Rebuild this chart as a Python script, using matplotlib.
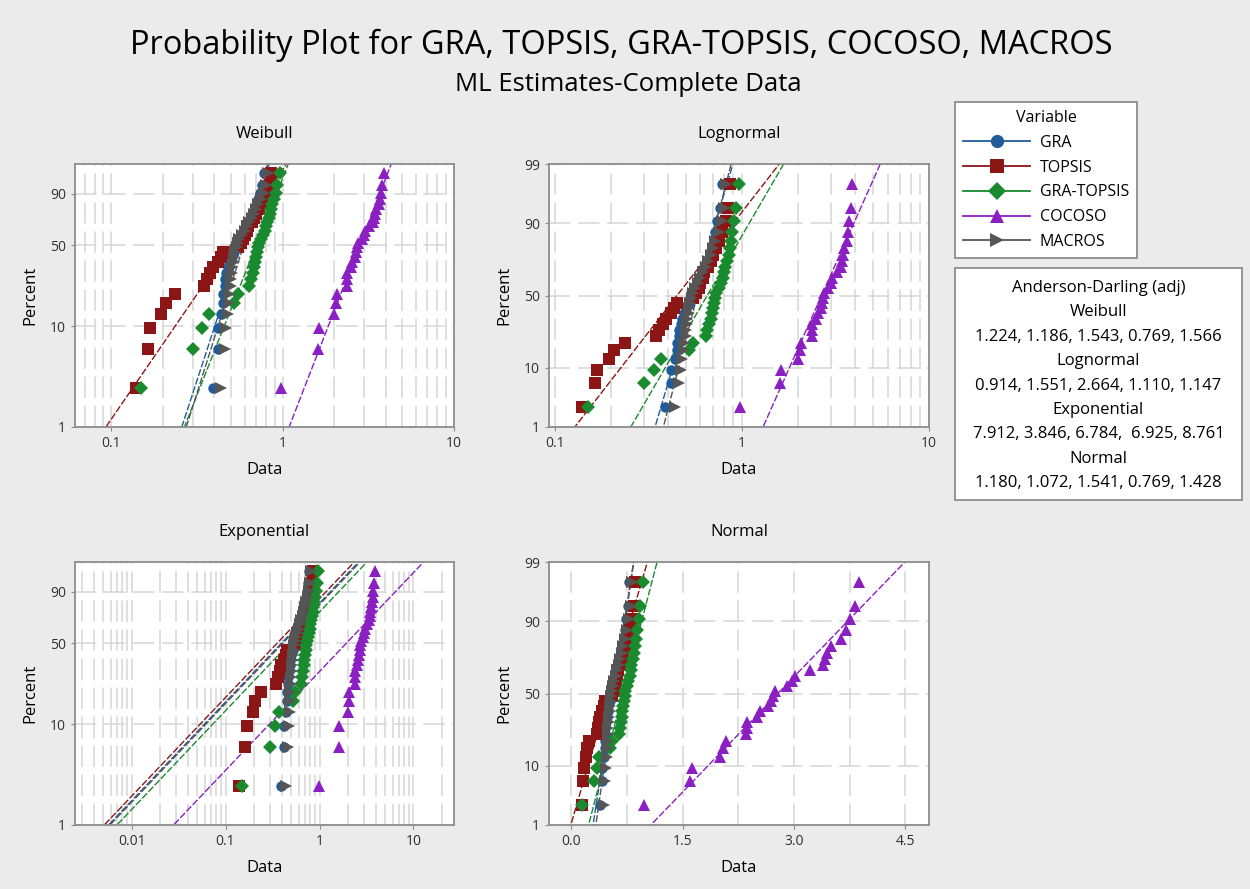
import numpy as np
import matplotlib
matplotlib.use("Agg")
import matplotlib.pyplot as plt
from matplotlib.lines import Line2D
from matplotlib.patches import Rectangle
from matplotlib.ticker import NullLocator, FixedLocator
from statistics import NormalDist

plt.rcParams['font.family'] = ['Open Sans', 'DejaVu Sans']

# sorted sample values (28 per series)
gra = [0.39, 0.42, 0.42, 0.44, 0.45, 0.45, 0.46, 0.46, 0.47, 0.48, 0.49, 0.50, 0.52, 0.53,
       0.55, 0.57, 0.59, 0.61, 0.63, 0.65, 0.67, 0.69, 0.70, 0.71, 0.72, 0.74, 0.76, 0.78]
topsis = [0.14, 0.163, 0.168, 0.195, 0.208, 0.236, 0.348, 0.362, 0.377, 0.393, 0.418, 0.435, 0.45, 0.55,
          0.57, 0.59, 0.60, 0.62, 0.63, 0.66, 0.68, 0.70, 0.73, 0.75, 0.78, 0.82, 0.84, 0.86]
gra_topsis = [0.15, 0.30, 0.34, 0.37, 0.52, 0.55, 0.64, 0.65, 0.67, 0.68, 0.69, 0.70, 0.71, 0.72,
              0.73, 0.75, 0.77, 0.79, 0.80, 0.81, 0.83, 0.85, 0.86, 0.87, 0.89, 0.91, 0.93, 0.97]
cocoso = [0.98, 1.60, 1.62, 2.00, 2.05, 2.08, 2.36, 2.37, 2.37, 2.50, 2.54, 2.65, 2.69, 2.72,
          2.74, 2.90, 2.98, 3.02, 3.21, 3.39, 3.42, 3.45, 3.50, 3.64, 3.70, 3.75, 3.82, 3.88]
macros = [0.44, 0.46, 0.47, 0.48, 0.49, 0.49, 0.50, 0.50, 0.51, 0.51, 0.52, 0.52, 0.53, 0.54,
          0.55, 0.56, 0.58, 0.60, 0.62, 0.64, 0.66, 0.68, 0.70, 0.72, 0.75, 0.78, 0.80, 0.82]

names = ['GRA', 'TOPSIS', 'GRA-TOPSIS', 'COCOSO', 'MACROS']
colors = ['#1f5c99', '#8c1515', '#1a8a2e', '#8a1fc2', '#555555']
markers = ['o', 's', 'D', '^', '>']
msizes = [7.5, 8, 7, 8.5, 8.5]

ad_lines = ['Anderson-Darling (adj)',
            'Weibull', '1.224, 1.186, 1.543, 0.769, 1.566',
            'Lognormal', '0.914, 1.551, 2.664, 1.110, 1.147',
            'Exponential', '7.912, 3.846, 6.784,  6.925, 8.761',
            'Normal', '1.180, 1.072, 1.541, 0.769, 1.428']

series = [gra, topsis, gra_topsis, cocoso, macros]

nd = NormalDist()
_ppf = np.vectorize(nd.inv_cdf, otypes=[float])
_cdf = np.vectorize(nd.cdf, otypes=[float])


def _clip(p):
    return np.clip(np.asarray(p, dtype=float) / 100.0, 1e-9, 1 - 1e-9)


def wb_fwd(p):
    return np.log(-np.log(1 - _clip(p)))


def wb_inv(w):
    return 100 * (1 - np.exp(-np.exp(np.asarray(w, dtype=float))))


def nm_fwd(p):
    return _ppf(_clip(p))


def nm_inv(z):
    return 100 * _cdf(np.asarray(z, dtype=float))


def weibull_mle(x):
    lx = np.log(x)
    def g(k):
        xk = x ** k
        return (xk * lx).sum() / xk.sum() - 1 / k - lx.mean()
    lo, hi = 0.05, 60.0
    for _ in range(200):
        mid = 0.5 * (lo + hi)
        if g(mid) > 0:
            hi = mid
        else:
            lo = mid
    k = 0.5 * (lo + hi)
    lam = np.mean(x ** k) ** (1 / k)
    return k, lam


fig = plt.figure(figsize=(12.5, 8.89), dpi=100)
fig.patch.set_facecolor('#ebebeb')

W, H = 1250.0, 889.0


def add_ax(l, t, r, b):
    return fig.add_axes([l / W, 1 - b / H, (r - l) / W, (b - t) / H])


panels = [
    ('Weibull', add_ax(75, 164, 454, 427)),
    ('Lognormal', add_ax(549, 164, 929, 427)),
    ('Exponential', add_ax(75, 562, 454, 825)),
    ('Normal', add_ax(549, 562, 929, 825)),
]

pline = np.linspace(0.3, 99.7, 400)
gridkw = dict(color='#d6d6d6', linestyle=(0, (14, 5)), linewidth=1.1)

for kind, ax in panels:
    ax.set_facecolor('white')
    for s in ax.spines.values():
        s.set_color('#8c8c8c')
        s.set_linewidth(1.3)
    if kind in ('Weibull', 'Exponential'):
        ax.set_yscale('function', functions=(wb_fwd, wb_inv))
        yt = [1, 10, 50, 90]
    else:
        ax.set_yscale('function', functions=(nm_fwd, nm_inv))
        yt = [1, 10, 50, 90, 99]
    ax.set_ylim(1, 99)
    ax.yaxis.set_major_locator(FixedLocator(yt))
    ax.set_yticklabels([str(v) for v in yt])
    ax.yaxis.set_minor_locator(NullLocator())

    for i, (vals, c, m, ms) in enumerate(zip(series, colors, markers, msizes)):
        x = np.sort(np.asarray(vals, dtype=float))
        n = len(x)
        pct = 100 * (np.arange(1, n + 1) - 0.3) / (n + 0.4)
        q = pline / 100
        if kind == 'Weibull':
            k, lam = weibull_mle(x)
            xl = lam * (-np.log(1 - q)) ** (1 / k)
        elif kind == 'Lognormal':
            mu, sd = np.log(x).mean(), np.log(x).std()
            xl = np.exp(mu + sd * _ppf(q))
        elif kind == 'Exponential':
            xl = x.mean() * (-np.log(1 - q))
        else:
            mu, sd = x.mean(), x.std()
            xl = mu + sd * _ppf(q)
        ax.plot(xl, pline, color=c, lw=1.0, linestyle=(0, (5, 1.5)), zorder=2)
        ax.plot(x, pct, linestyle='none', marker=m, ms=ms, color=c,
                markeredgewidth=0, zorder=3 + i)

    if kind == 'Normal':
        ax.set_xlim(-0.30, 4.82)
        ax.set_xticks([0.0, 1.5, 3.0, 4.5], ['0.0', '1.5', '3.0', '4.5'])
        ax.xaxis.set_minor_locator(FixedLocator([0.75, 2.25, 3.75]))
    else:
        ax.set_xscale('log')
        if kind == 'Exponential':
            ax.set_xlim(0.0025, 27)
            ax.set_xticks([0.01, 0.1, 1, 10], ['0.01', '0.1', '1', '10'])
            dec = [0.001, 0.01, 0.1, 1, 10]
        elif kind == 'Weibull':
            ax.set_xlim(0.0615, 10)
            ax.set_xticks([0.1, 1, 10], ['0.1', '1', '10'])
            dec = [0.01, 0.1, 1]
        else:
            ax.set_xlim(0.093, 10)
            ax.set_xticks([0.1, 1, 10], ['0.1', '1', '10'])
            dec = [0.01, 0.1, 1]
        ax.xaxis.set_minor_locator(FixedLocator([d * k for d in dec for k in range(2, 10)]))
        ax.xaxis.set_minor_formatter(plt.NullFormatter())
    ax.set_axisbelow(True)
    ax.grid(True, which='both', axis='x', **gridkw)
    ax.grid(True, which='major', axis='y', **gridkw)
    ax.tick_params(which='major', length=3, color='#8c8c8c', labelsize=10, labelcolor='#303030')
    ax.tick_params(which='minor', length=0)
    ax.set_ylabel('Percent', fontsize=12, labelpad=8)
    ax.set_xlabel('Data', fontsize=12, labelpad=8)
    ax.set_title(kind, fontsize=12, pad=19)

fig.text(0.497, 0.949, 'Probability Plot for GRA, TOPSIS, GRA-TOPSIS, COCOSO, MACROS',
         ha='center', va='center', fontsize=23.5)
fig.text(0.503, 0.905, 'ML Estimates-Complete Data', ha='center', va='center', fontsize=18.5)

handles = [Line2D([], [], color=c, marker=m, ms=9.5, lw=1.3, markeredgewidth=0)
           for c, m in zip(colors, markers)]
leg = fig.legend(handles, names, title='Variable', loc='upper left',
                 bbox_to_anchor=(955 / W, 1 - 102 / H), frameon=True, fancybox=False,
                 edgecolor='#8c8c8c', framealpha=1, fontsize=11.5, title_fontsize=11.5,
                 handlelength=4.2, borderaxespad=0, labelspacing=0.55, borderpad=0.5,
                 handletextpad=0.6)
leg.get_frame().set_linewidth(1.3)

fig.patches.append(Rectangle((955 / W, 1 - 500 / H), (1242 - 955) / W, (500 - 268) / H,
                             transform=fig.transFigure, facecolor='white',
                             edgecolor='#8c8c8c', linewidth=1.3))
for j, line in enumerate(ad_lines):
    fig.text(1098.5 / W, 1 - (288 + 24.4 * j) / H, line, ha='center', va='center', fontsize=12)

fig.savefig('out.png', dpi=100, facecolor=fig.get_facecolor())
